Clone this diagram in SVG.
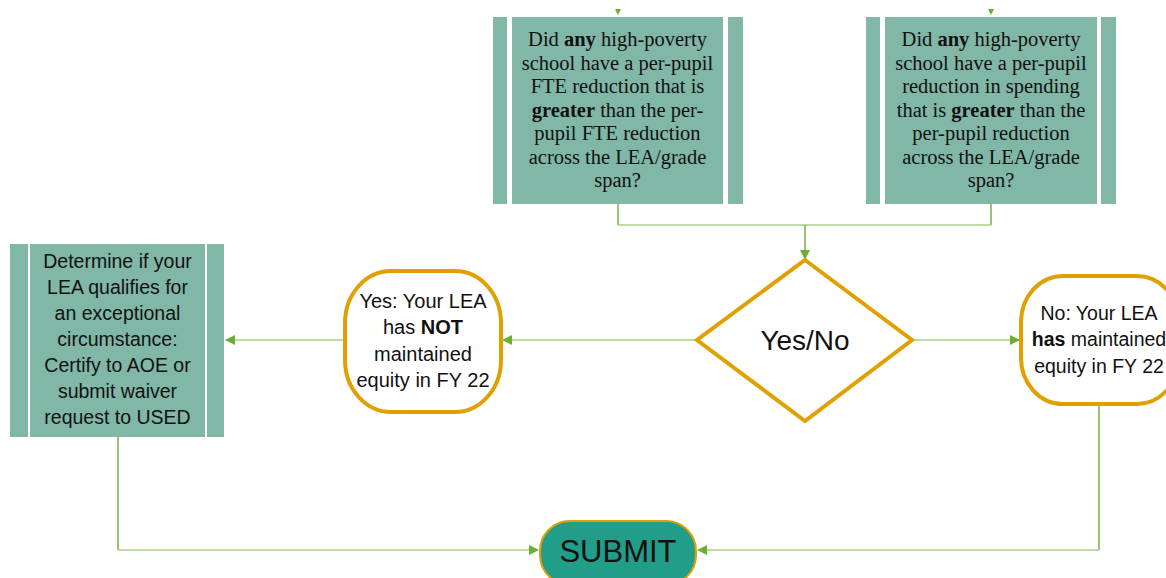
<svg xmlns="http://www.w3.org/2000/svg" width="1166" height="578" viewBox="0 0 1166 578">
<defs>
<marker id="ah" markerWidth="10" markerHeight="10" refX="9" refY="5" orient="auto" markerUnits="userSpaceOnUse">
<path d="M0,0 L10,5 L0,10 Z" fill="#6AAF32"/>
</marker>
</defs>
<style>
.bar{fill:#80B7A7;}
.serif{font-family:"Liberation Serif","Times New Roman",serif;font-size:20.5px;fill:#111;text-anchor:middle;}
.sans{font-family:"Liberation Sans",Arial,sans-serif;fill:#111;text-anchor:middle;}
.term{fill:#fff;stroke:#E0A000;stroke-width:4;}
.cv{fill:none;stroke:#76B04A;stroke-width:1.5;}
.ch{fill:none;stroke:#A8D08D;stroke-width:1.5;}
.tip{fill:#6AAF32;}
</style>
<g id="connectors">
<path class="tip" d="M615,9 L621,9 L618,15 Z"/>
<path class="tip" d="M988,9 L994,9 L991,15 Z"/>
<path class="cv" d="M618,204 V225"/>
<path class="cv" d="M991,204 V225"/>
<path class="ch" d="M618,225 H991"/>
<path class="cv" d="M805,225 V259" marker-end="url(#ah)"/>
<path class="ch" d="M696,340 H503" marker-end="url(#ah)"/>
<path class="ch" d="M343,340 H226" marker-end="url(#ah)"/>
<path class="ch" d="M913,340 H1019" marker-end="url(#ah)"/>
<path class="cv" d="M118,437 V550"/>
<path class="ch" d="M118,550 H538" marker-end="url(#ah)"/>
<path class="cv" d="M1099,406 V550"/>
<path class="ch" d="M1099,550 H698" marker-end="url(#ah)"/>
</g>
<g id="q1">
<rect class="bar" x="493" y="17" width="14" height="187"/>
<rect class="bar" x="512" y="17" width="211" height="187"/>
<rect class="bar" x="728" y="17" width="15" height="187"/>
<text class="serif" x="617.5" y="46">Did <tspan font-weight="bold">any</tspan> high-poverty</text>
<text class="serif" x="617.5" y="69.5">school have a per-pupil</text>
<text class="serif" x="617.5" y="93">FTE reduction that is</text>
<text class="serif" x="617.5" y="116.5"><tspan font-weight="bold">greater</tspan> than the per-</text>
<text class="serif" x="617.5" y="140">pupil FTE reduction</text>
<text class="serif" x="617.5" y="163.5">across the LEA/grade</text>
<text class="serif" x="617.5" y="187">span?</text>
</g>
<g id="q2">
<rect class="bar" x="866" y="17" width="14" height="187"/>
<rect class="bar" x="885" y="17" width="212" height="187"/>
<rect class="bar" x="1101" y="17" width="15" height="187"/>
<text class="serif" x="991" y="46">Did <tspan font-weight="bold">any</tspan> high-poverty</text>
<text class="serif" x="991" y="69.5">school have a per-pupil</text>
<text class="serif" x="991" y="93">reduction in spending</text>
<text class="serif" x="991" y="116.5">that is <tspan font-weight="bold">greater</tspan> than the</text>
<text class="serif" x="991" y="140">per-pupil reduction</text>
<text class="serif" x="991" y="163.5">across the LEA/grade</text>
<text class="serif" x="991" y="187">span?</text>
</g>
<g id="decision">
<polygon class="term" points="805,260 912,340 805,421 697,340"/>
<text class="sans" x="805" y="350" font-size="28">Yes/No</text>
</g>
<g id="yes">
<rect class="term" x="345" y="271" width="156" height="141" rx="46" ry="52"/>
<text class="sans" x="423" y="308" font-size="20">Yes: Your LEA</text>
<text class="sans" x="423" y="334" font-size="20">has <tspan font-weight="bold">NOT</tspan></text>
<text class="sans" x="423" y="361" font-size="20">maintained</text>
<text class="sans" x="423" y="387" font-size="20">equity in FY 22</text>
</g>
<g id="no">
<rect class="term" x="1021" y="276" width="158" height="128" rx="42" ry="46"/>
<text class="sans" x="1099" y="320" font-size="19.5">No: Your LEA</text>
<text class="sans" x="1099" y="346" font-size="19.5"><tspan font-weight="bold">has</tspan> maintained</text>
<text class="sans" x="1099" y="373" font-size="19.5">equity in FY 22</text>
</g>
<g id="exception">
<rect class="bar" x="10" y="244" width="18" height="193"/>
<rect class="bar" x="30" y="244" width="175" height="193"/>
<rect class="bar" x="207" y="244" width="17" height="193"/>
<text class="sans" x="117.5" y="268" font-size="19.5">Determine if your</text>
<text class="sans" x="117.5" y="294" font-size="19.5">LEA qualifies for</text>
<text class="sans" x="117.5" y="320" font-size="19.5">an exceptional</text>
<text class="sans" x="117.5" y="346" font-size="19.5">circumstance:</text>
<text class="sans" x="117.5" y="372" font-size="19.5">Certify to AOE or</text>
<text class="sans" x="117.5" y="398" font-size="19.5">submit waiver</text>
<text class="sans" x="117.5" y="424" font-size="19.5">request to USED</text>
</g>
<g id="submit">
<rect x="540" y="521" width="156" height="64" rx="30" ry="30" fill="#209E89" stroke="#E0A000" stroke-width="2"/>
<text class="sans" x="618" y="562" font-size="31">SUBMIT</text>
</g>
</svg>
